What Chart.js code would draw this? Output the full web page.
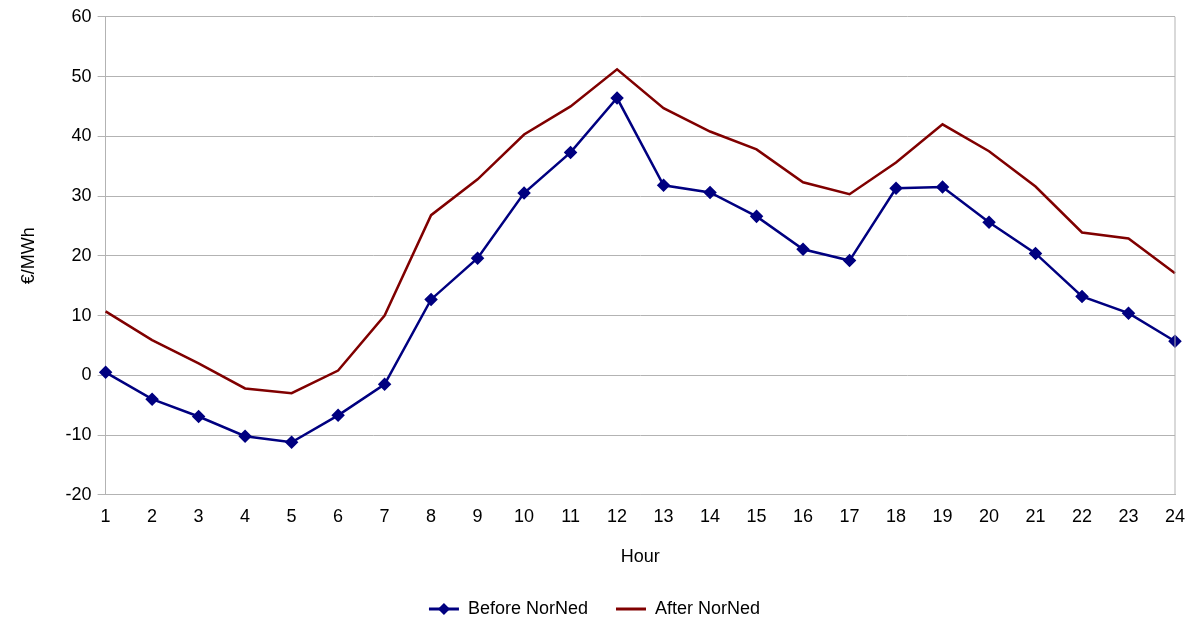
<!DOCTYPE html>
<html>
<head>
<meta charset="utf-8">
<script src="https://cdn.jsdelivr.net/npm/chart.js@4"></script>
<style>
  body { margin: 0; background: #fff; }
  #wrap { width: 1193px; height: 628px; }
</style>
</head>
<body>
<div id="wrap"><canvas id="c"></canvas></div>
<script>
// hours 1..24
var hours = [];
for (var h = 1; h <= 24; h++) hours.push(String(h));

var beforeNorNed = [0.5, -4, -6.9, -10.2, -11.2, -6.7, -1.5, 12.7, 19.6, 30.5, 37.3, 46.4,
                    31.8, 30.6, 26.6, 21.1, 19.2, 31.3, 31.5, 25.6, 20.4, 13.2, 10.4, 5.7];
var afterNorNed = [10.7, 5.9, 2, -2.2, -3, 0.8, 10, 26.8, 32.8, 40.3, 45, 51.2,
                   44.7, 40.8, 37.8, 32.3, 30.3, 35.6, 42, 37.5, 31.6, 23.9, 22.9, 17.1];

Chart.defaults.font.family = "'Liberation Sans', Arial, sans-serif";
Chart.defaults.color = '#000';

new Chart(document.getElementById('c'), {
    type: 'line',
    data: {
        labels: hours,
        datasets: [{
            label: 'Before NorNed',
            data: beforeNorNed,
            borderColor: '#000080',
            backgroundColor: '#000080',
            borderWidth: 2.5,
            pointStyle: 'rectRot',
            pointRadius: 5,
            tension: 0
        }, {
            label: 'After NorNed',
            data: afterNorNed,
            borderColor: '#800000',
            backgroundColor: '#800000',
            borderWidth: 2.5,
            pointRadius: 0,
            tension: 0
        }]
    },
    options: {
        responsive: true,
        maintainAspectRatio: false,
        animation: false,
        layout: { padding: { top: 10, right: 18, left: 14, bottom: 0 } },
        plugins: {
            legend: {
                position: 'bottom',
                labels: {
                    font: { size: 18 },
                    boxWidth: 30,
                    boxHeight: 3,
                    padding: 28,
                    generateLabels: function(chart) {
                        return chart.data.datasets.map(function(ds, i) {
                            return {
                                text: ds.label,
                                fillStyle: ds.borderColor,
                                strokeStyle: ds.borderColor,
                                lineWidth: 0,
                                datasetIndex: i
                            };
                        });
                    }
                }
            }
        },
        scales: {
            x: {
                offset: false,
                grid: { display: false, drawTicks: true, tickLength: 8, color: '#b3b3b3' },
                border: { color: '#b3b3b3' },
                ticks: { font: { size: 18 }, maxRotation: 0, autoSkip: false },
                title: { display: true, text: 'Hour', font: { size: 18 }, padding: { top: 16 } }
            },
            y: {
                min: -20,
                max: 60,
                grid: { color: '#b3b3b3', tickLength: 8 },
                border: { color: '#b3b3b3' },
                ticks: { stepSize: 10, font: { size: 18 }, padding: 6 },
                title: { display: true, text: '€/MWh', font: { size: 18 }, padding: { bottom: 20 } }
            }
        }
    },
    plugins: [{
        id: 'frame',
        afterDraw: function(chart) {
            var a = chart.chartArea, ctx = chart.ctx;
            ctx.save();
            ctx.strokeStyle = '#b3b3b3';
            ctx.lineWidth = 1;
            ctx.beginPath();
            ctx.moveTo(a.right, a.top);
            ctx.lineTo(a.right, a.bottom);
            ctx.stroke();
            // diamond marker on the first legend line
            var item = chart.legend.legendHitBoxes[0];
            if (item) {
                var cx = item.left + 15, cy = item.top + item.height / 2;
                ctx.fillStyle = '#000080';
                ctx.beginPath();
                ctx.moveTo(cx, cy - 6); ctx.lineTo(cx + 6, cy);
                ctx.lineTo(cx, cy + 6); ctx.lineTo(cx - 6, cy);
                ctx.closePath();
                ctx.fill();
            }
            ctx.restore();
        }
    }]
});
</script>
</body>
</html>
